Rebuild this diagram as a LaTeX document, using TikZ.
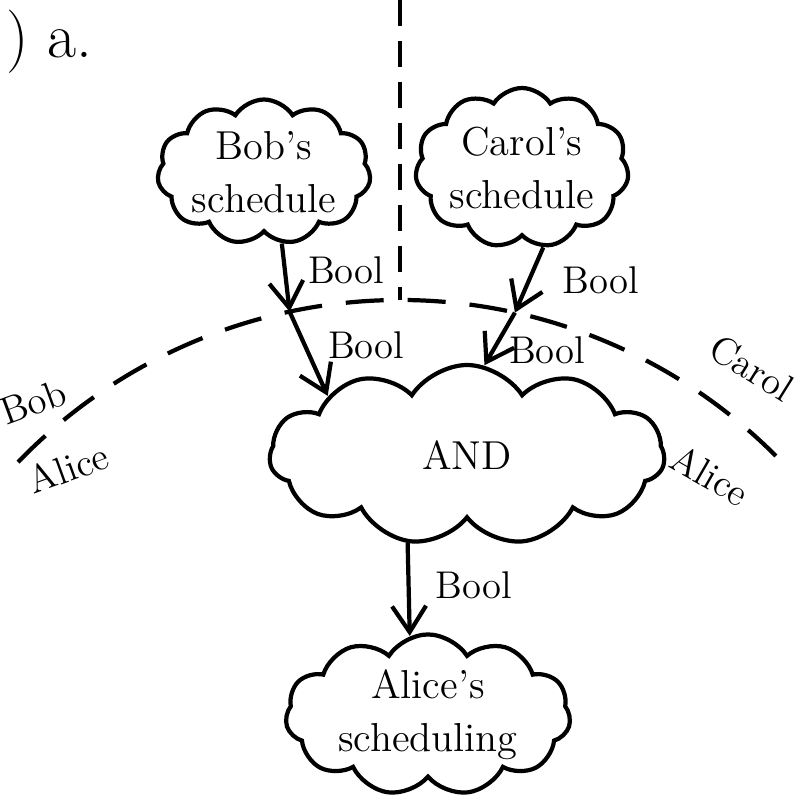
\documentclass[tikz,border=0pt]{standalone}
\usepackage{tikz}
\usetikzlibrary{arrows.meta, positioning, shapes.symbols, calc}

\begin{document}
\begin{tikzpicture}[
  blob/.style={cloud, draw, cloud puffs=11, cloud puff arc=115, cloud ignores aspect,
               line width=1.2pt, inner sep=0pt, align=center, font=\fontsize{11.5}{15}\selectfont},
  flow/.style={line width=1.2pt, -{Straight Barb[length=2.6mm, width=3.4mm]}},
  wall/.style={line width=1.2pt, dash pattern=on 0.38cm off 0.24cm},
  lbl/.style={font=\fontsize{11}{13}\selectfont, inner sep=1pt},
  side/.style={font=\fontsize{11}{13}\selectfont, inner sep=0pt}
]
  \useasboundingbox (0,0) rectangle (7.99,-8.03);

  % Title (left part cut off)
  \node[anchor=west, font=\fontsize{18}{20}\selectfont] (title) at (-0.06,-0.42) {)\ a.};

  % Schedules and the AND
  \node[blob, minimum width=1.75cm, minimum height=1.45cm] (bob)   at (2.64,-1.72) {Bob's\\schedule};
  \node[blob, minimum width=1.95cm, minimum height=1.6cm] (carol) at (5.22,-1.68) {Carol's\\schedule};
  \node[blob, minimum width=3.95cm, minimum height=1.8cm] (and)   at (4.67,-4.55) {AND};
  \node[blob, minimum width=2.85cm, minimum height=1.5cm] (alice) at (4.28,-7.15) {Alice's\\scheduling};

  % Trust boundaries
  \coordinate (ctr) at (4.0,-8.31);
  \coordinate (top) at (4.0,0);
  \coordinate (mid) at ($(ctr)+(90:5.31)$);
  \coordinate (xb) at ($(ctr)+(102:5.31)$);
  \coordinate (xc) at ($(ctr)+(77.5:5.31)$);
  \draw[wall, dash pattern=on 0.26cm off 0.15cm] (top) -- (mid);
  \draw[wall] ($(ctr)+(136:5.31)$) arc[start angle=136, end angle=44, radius=5.31];

  \node[side, rotate=20] (bobside) at (0.33,-4.02) {Bob};
  \node[side, rotate=20] (aliceleft) at (0.68,-4.68) {Alice};
  \node[side, rotate=-32] (carolside) at (7.52,-3.68) {Carol};
  \node[side, rotate=-30] (aliceright) at (7.1,-4.75) {Alice};

  % Messages
  \draw[flow] (bob.-76) -- (xb) node[lbl, pos=0.4, right=5pt] (b1) {Bool};
  \draw[flow] (xb) -- (and.157) node[lbl, pos=0.4, right=5pt] (b2) {Bool};
  \draw[flow] (carol.-75) -- (xc) node[lbl, midway, right=8pt] (c1) {Bool};
  \draw[flow] (xc) -- (and.79) node[lbl, pos=0.72, right=3pt] (c2) {Bool};
  \draw[flow] (and.-124) -- (alice.103) node[lbl, pos=0.45, right=6pt] (a1) {Bool};
\end{tikzpicture}
\end{document}
